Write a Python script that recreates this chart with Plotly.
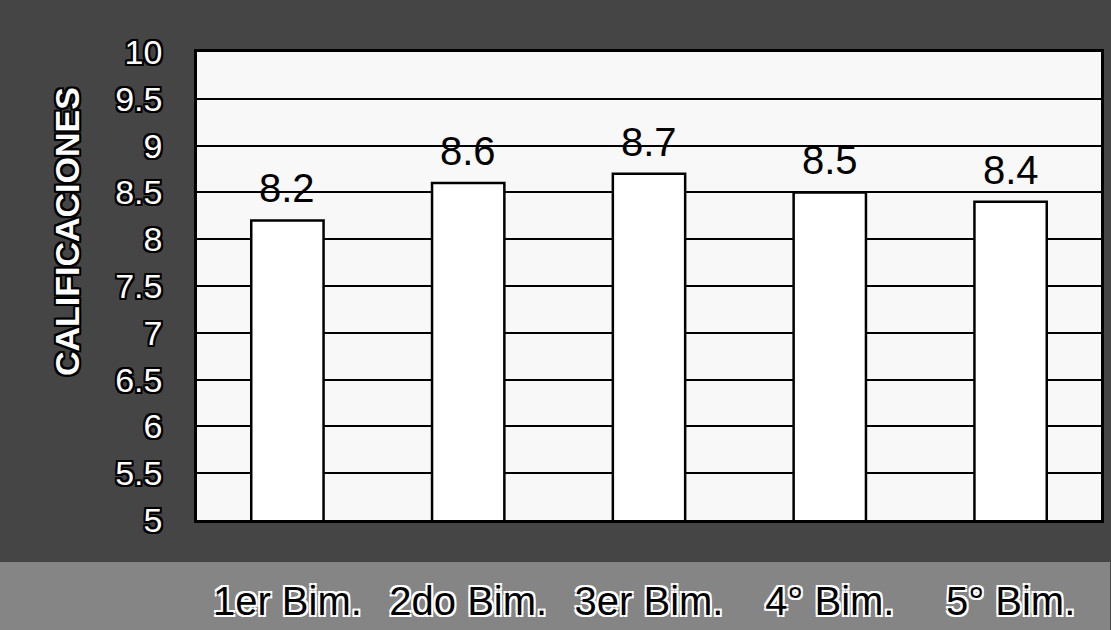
import plotly.graph_objects as go

# datos del grafico (calificaciones por bimestre)
bimestres = ["1er Bim.", "2do Bim.", "3er Bim.", "4° Bim.", "5° Bim."]
calificaciones = [8.2, 8.6, 8.7, 8.5, 8.4]
etiquetas = ["8.2", "8.6", "8.7", "8.5", "8.4"]
y_ticks = [5, 5.5, 6, 6.5, 7, 7.5, 8, 8.5, 9, 9.5, 10]

FONT = "Arial, Liberation Sans, sans-serif"
outline_blk = "-2px -2px 0 #000, 2px -2px 0 #000, -2px 2px 0 #000, 2px 2px 0 #000, 0 2px 0 #000, 0 -2px 0 #000, 2px 0 0 #000, -2px 0 0 #000"
outline_wht = "-2px -2px 0 #fff, 2px -2px 0 #fff, -2px 2px 0 #fff, 2px 2px 0 #fff"

fig = go.Figure()
fig.add_trace(go.Bar(
    x=bimestres, y=calificaciones,
    marker=dict(color="white", line=dict(color="black", width=2.5)),
    hoverinfo="skip",
))

# etiquetas de valor encima de cada barra
for b, v, t in zip(bimestres, calificaciones, etiquetas):
    fig.add_annotation(x=b, y=v, text=t, showarrow=False, yanchor="bottom",
                       yshift=8, font=dict(family=FONT, size=40, color="black"))

# titulo del eje y
fig.add_annotation(xref="paper", yref="paper", x=-0.144, y=0.93, text="<b>CALIFICACIONES</b>",
                   textangle=-90, showarrow=False, xanchor="center", yanchor="top",
                   font=dict(family=FONT, size=34, color="white", shadow=outline_blk))

# franja clara detras de las etiquetas del eje x
fig.add_shape(type="rect", xref="paper", yref="paper", x0=-0.22, x1=1.01, y0=-0.24, y1=-0.09,
              fillcolor="#858585", line=dict(width=0), layer="below")

fig.update_layout(
    width=1111, height=630,
    margin=dict(l=197, r=7, t=52, b=110),
    paper_bgcolor="#454545",
    plot_bgcolor="#f8f8f8",
    showlegend=False,
    bargap=0.6,
    xaxis=dict(
        showline=True, linecolor="black", linewidth=2.5, mirror=True,
        ticks="", ticklabelstandoff=44,
        tickfont=dict(family=FONT, size=40, color="black", shadow=outline_wht),
    ),
    yaxis=dict(
        range=[5, 10], tickvals=y_ticks,
        showgrid=True, gridcolor="black", gridwidth=1.5,
        showline=True, linecolor="black", linewidth=2.5, mirror=True,
        ticks="", ticklabelstandoff=25, zeroline=False,
        tickfont=dict(family=FONT, size=34, color="white", shadow=outline_blk),
    ),
)

fig.write_html("out.html", config={"displayModeBar": False},
               post_script="document.body.style.margin='0';")
